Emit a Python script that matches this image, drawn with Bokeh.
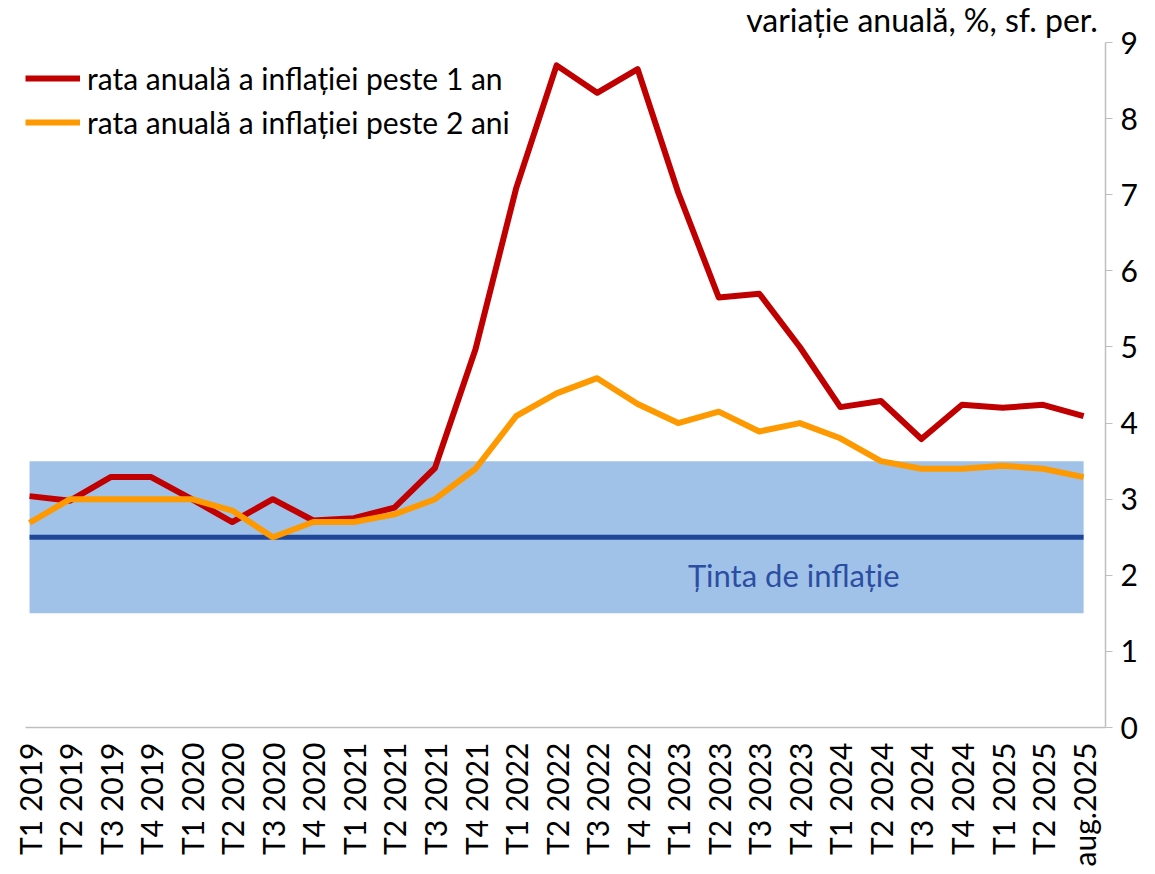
from bokeh.plotting import figure
from bokeh.models import Range1d, FixedTicker, Legend, LegendItem, Label
from bokeh.embed import file_html
from bokeh.resources import INLINE
import math

categories = ["T1 2019", "T2 2019", "T3 2019", "T4 2019",
              "T1 2020", "T2 2020", "T3 2020", "T4 2020",
              "T1 2021", "T2 2021", "T3 2021", "T4 2021",
              "T1 2022", "T2 2022", "T3 2022", "T4 2022",
              "T1 2023", "T2 2023", "T3 2023", "T4 2023",
              "T1 2024", "T2 2024", "T3 2024", "T4 2024",
              "T1 2025", "T2 2025", "aug.2025"]

rata_1_an = [3.04, 2.98, 3.29, 3.29,
             3.0, 2.70, 3.0, 2.72,
             2.75, 2.89, 3.41, 4.97,
             7.08, 8.70, 8.34, 8.65,
             7.03, 5.65, 5.70, 5.0,
             4.21, 4.29, 3.79, 4.24,
             4.20, 4.24, 4.09]

rata_2_ani = [2.69, 3.0, 3.0, 3.0,
              3.0, 2.85, 2.50, 2.70,
              2.70, 2.80, 3.0, 3.40,
              4.09, 4.39, 4.59, 4.25,
              4.0, 4.15, 3.89, 4.0,
              3.80, 3.50, 3.40, 3.40,
              3.44, 3.40, 3.29]

tinta = 2.5
interval_jos = 1.5
interval_sus = 3.5
y_ticks = [0, 1, 2, 3, 4, 5, 6, 7, 8, 9]

FONT = "Lato"
xs = list(range(len(categories)))

p = figure(output_backend="svg", toolbar_location=None,
           frame_width=1080, frame_height=723,
           x_range=Range1d(-0.1, len(categories) - 1 + 0.54),
           y_range=Range1d(0, 9.5),
           y_axis_location="right",
           min_border_left=25, min_border_top=4, min_border_bottom=0, min_border_right=0)
p.outline_line_color = None
p.xgrid.visible = False
p.ygrid.visible = False
p.background_fill_color = "white"
p.border_fill_color = "white"

# band and target
p.quad(left=xs[0], right=xs[-1], bottom=interval_jos, top=interval_sus,
       fill_color="#A0C2E8", line_color=None)
p.line(x=[xs[0], xs[-1]], y=[tinta, tinta], line_color="#1F4699", line_width=5)

r1 = p.line(xs, rata_1_an, line_color="#C00000", line_width=6, line_join="round")
r2 = p.line(xs, rata_2_ani, line_color="#FF9900", line_width=6, line_join="round")

p.add_layout(Label(x=18.85, y=2.0, text="Ținta de inflație", text_font=FONT,
                   text_font_size="31px", text_color="#2B4EA2",
                   text_align="center", text_baseline="middle"))

p.add_layout(Label(x=len(categories) - 1 + 0.35, y=9, y_offset=4, text="variație anuală, %, sf. per.",
                   text_font=FONT, text_font_size="32px", text_color="#000000",
                   text_align="right", text_baseline="bottom"))

legend = Legend(items=[LegendItem(label="rata anuală a inflației peste 1 an", renderers=[r1]),
                       LegendItem(label="rata anuală a inflației peste 2 ani", renderers=[r2])],
                location=(0, 583), orientation="vertical",
                background_fill_alpha=0, border_line_color=None,
                padding=0, margin=0, spacing=0,
                glyph_width=55, glyph_height=44, label_height=44,
                label_standoff=7, label_text_font=FONT, label_text_font_size="30px",
                label_text_color="#000000", label_text_baseline="middle")
p.add_layout(legend)

xa = p.xaxis[0]
xa.ticker = FixedTicker(ticks=xs)
xa.major_label_overrides = {i: c for i, c in zip(xs, categories)}
xa.major_label_orientation = math.pi / 2
xa.major_label_text_font = FONT
xa.major_label_text_font_size = "30px"
xa.major_label_text_color = "#000000"
xa.major_label_standoff = 9
xa.major_tick_line_color = None
xa.minor_tick_line_color = None
xa.axis_line_color = "#BFBFBF"
xa.axis_line_width = 1.5

ya = p.yaxis[0]
ya.ticker = FixedTicker(ticks=y_ticks)
ya.bounds = (0, 9)
ya.major_label_text_font = FONT
ya.major_label_text_font_size = "30px"
ya.major_label_text_color = "#000000"
ya.major_tick_out = 7
ya.major_tick_in = 0
ya.major_tick_line_color = "#BFBFBF"
ya.minor_tick_line_color = None
ya.axis_line_color = "#BFBFBF"
ya.axis_line_width = 1.5
ya.major_label_standoff = 8

open("out.html", "w").write(file_html(p, INLINE))
